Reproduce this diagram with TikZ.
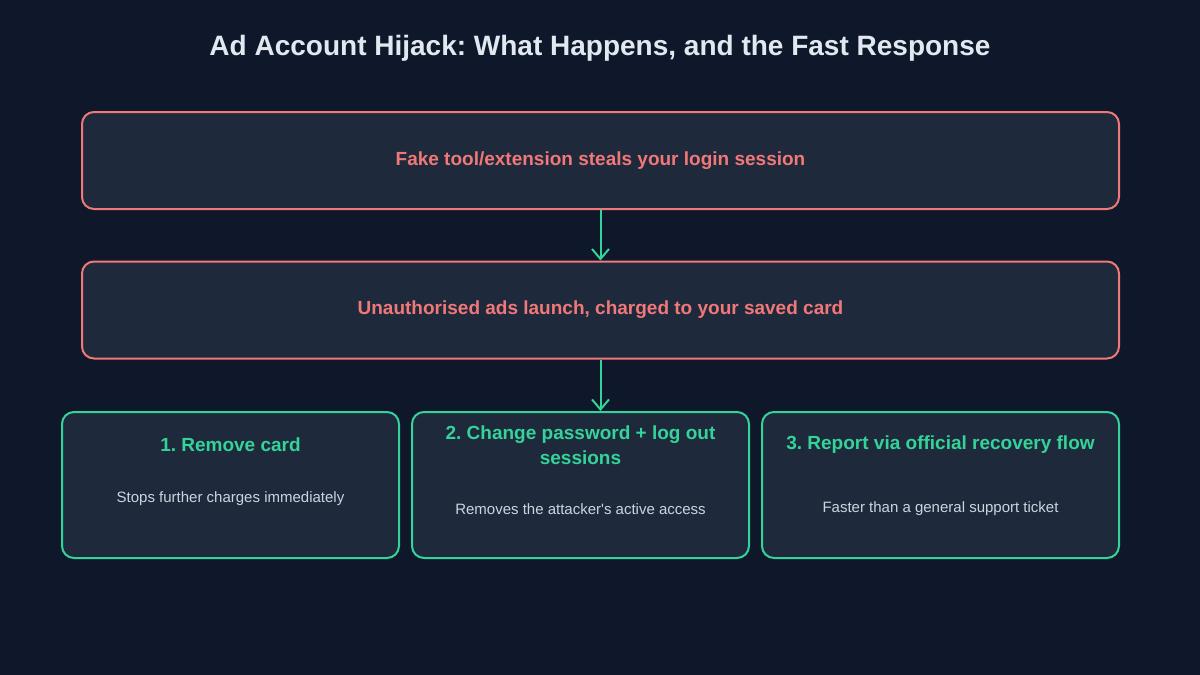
\documentclass[tikz,border=0pt]{standalone}
\usepackage{fontspec}
\setmainfont{Liberation Sans}
\frenchspacing
\usetikzlibrary{arrows.meta,positioning}
\definecolor{pagebg}{HTML}{0F172A}
\definecolor{boxbg}{HTML}{1E293B}
\definecolor{alertred}{HTML}{F07878}
\definecolor{fixgreen}{HTML}{34D399}
\definecolor{headtext}{HTML}{E2E8F0}
\definecolor{notegray}{HTML}{CBD5E1}
\tikzset{
  headline/.style={text=headtext, inner sep=0pt, font=\bfseries\fontsize{28}{32}\selectfont},
  stage/.style={draw=alertred, fill=boxbg, line width=2pt, rounded corners=12pt, inner sep=0pt, minimum width=1037pt, minimum height=97pt, text=alertred, font=\bfseries\fontsize{19}{23}\selectfont},
  action/.style={draw=fixgreen, fill=boxbg, line width=2pt, rounded corners=12pt, inner sep=0pt, minimum width=337pt, minimum height=146pt},
  actiontitle/.style={text=fixgreen, align=center, inner sep=0pt, font=\bfseries\fontsize{19}{25}\selectfont},
  actionnote/.style={text=notegray, inner sep=0pt, font=\fontsize{15}{18}\selectfont},
  arrow/.style={-{Straight Barb[length=10pt,width=17pt]}, line width=2pt, draw=fixgreen}
}
\begin{document}
\begin{tikzpicture}[x=1pt, y=-1pt]
  \fill[pagebg] (0,0) rectangle (1200,675);
  \useasboundingbox (0,0) rectangle (1200,675);
  \node[headline] (title) at (600,48) {Ad Account Hijack: What Happens, and the Fast Response};
  \node[stage] (steal) at (600.5,160.5) {\raisebox{-1pt}{Fake tool/extension steals your login session}};
  \node[stage] (launch) at (600.5,310) {\raisebox{-1.5pt}{Unauthorised ads launch, charged to your saved card}};
  \node[action] (removecard) at (230.5,485) {};
  \node[action] (changepw) at (580.5,485) {};
  \node[action, minimum width=357pt] (report) at (940.5,485) {};
  \node[actiontitle] (removetitle) at (removecard.center |- 0,445) {1. Remove card};
  \node[actionnote] (removenote) at (removecard.center |- 0,499) {Stops further charges immediately};
  \node[actiontitle] (changetitle) at (changepw.center |- 0,445) {2. Change password + log out\\sessions};
  \node[actionnote] (changenote) at (changepw.center |- 0,509) {Removes the attacker\textquotesingle s active access};
  \node[actiontitle] (reporttitle) at (report.center |- 0,445) {3. Report via official recovery flow};
  \node[actionnote] (reportnote) at (report.center |- 0,509) {Faster than a general support ticket};
  \draw[arrow] (steal) -- (launch);
  \draw[arrow] (launch.south) -- (launch.south |- changepw.north);
\end{tikzpicture}
\end{document}
